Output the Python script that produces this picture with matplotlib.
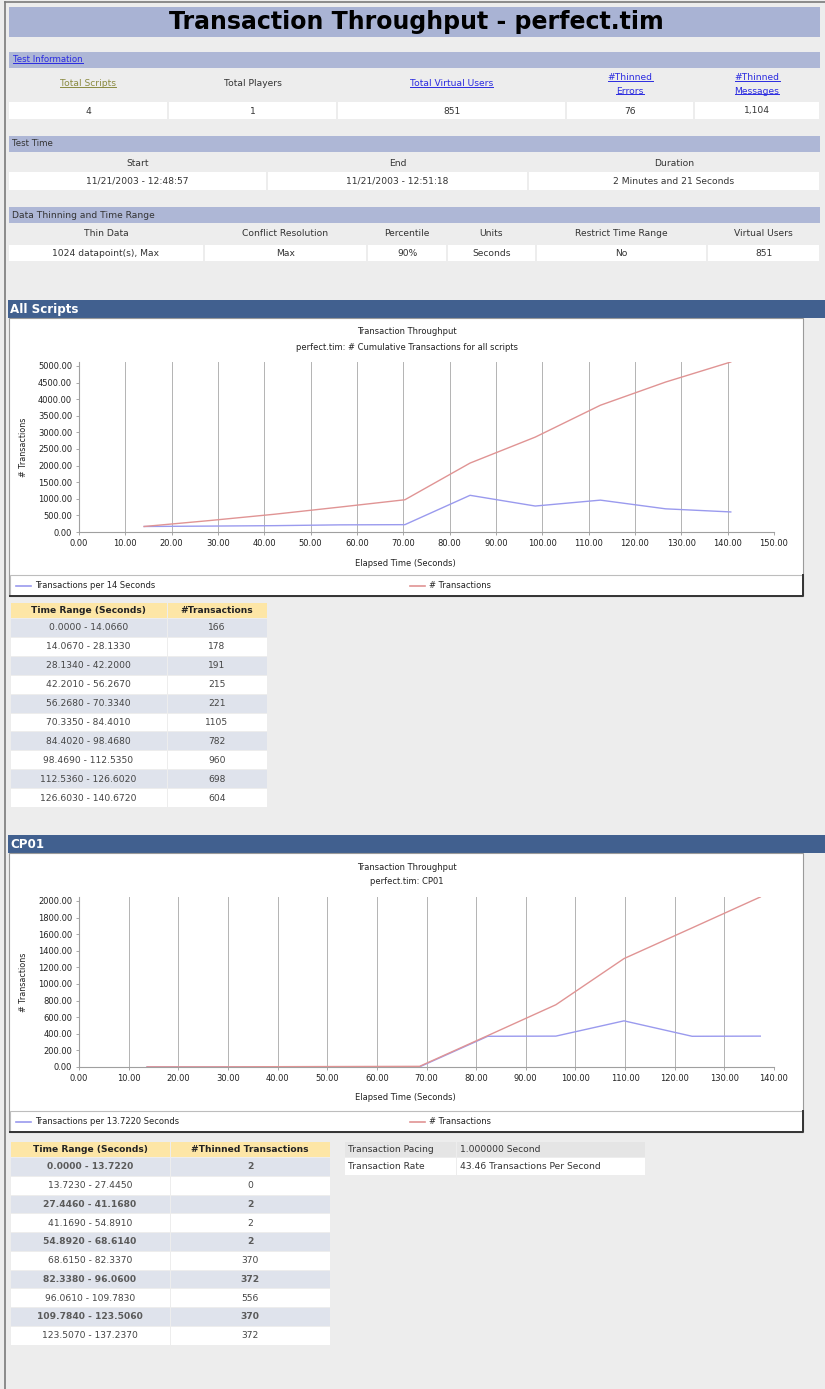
import matplotlib
matplotlib.use("Agg")
import matplotlib.pyplot as plt
from matplotlib.patches import Rectangle

# ---------------- data ----------------
page_title = "Transaction Throughput - perfect.tim"

info_headers = ["Total Scripts", "Total Players", "Total Virtual Users", "#Thinned\nErrors", "#Thinned\nMessages"]
info_values = ["4", "1", "851", "76", "1,104"]

time_headers = ["Start", "End", "Duration"]
time_values = ["11/21/2003 - 12:48:57", "11/21/2003 - 12:51:18", "2 Minutes and 21 Seconds"]

thin_headers = ["Thin Data", "Conflict Resolution", "Percentile", "Units", "Restrict Time Range", "Virtual Users"]
thin_values = ["1024 datapoint(s), Max", "Max", "90%", "Seconds", "No", "851"]

all_ranges = ["0.0000 - 14.0660", "14.0670 - 28.1330", "28.1340 - 42.2000", "42.2010 - 56.2670",
              "56.2680 - 70.3340", "70.3350 - 84.4010", "84.4020 - 98.4680", "98.4690 - 112.5350",
              "112.5360 - 126.6020", "126.6030 - 140.6720"]
all_counts = [166, 178, 191, 215, 221, 1105, 782, 960, 698, 604]
all_times = [14.066, 28.133, 42.200, 56.267, 70.334, 84.401, 98.468, 112.535, 126.602, 140.672]
all_cumulative = [166, 344, 535, 750, 971, 2076, 2858, 3818, 4516, 5120]

cp_ranges = ["0.0000 - 13.7220", "13.7230 - 27.4450", "27.4460 - 41.1680", "41.1690 - 54.8910",
             "54.8920 - 68.6140", "68.6150 - 82.3370", "82.3380 - 96.0600", "96.0610 - 109.7830",
             "109.7840 - 123.5060", "123.5070 - 137.2370"]
cp_counts = [2, 0, 2, 2, 2, 370, 372, 556, 370, 372]
cp_times = [13.722, 27.445, 41.168, 54.891, 68.614, 82.337, 96.060, 109.783, 123.506, 137.237]
cp_cumulative = [2, 2, 4, 6, 8, 378, 750, 1306, 1676, 2048]

pacing_labels = ["Transaction Pacing", "Transaction Rate"]
pacing_values = ["1.000000 Second", "43.46 Transactions Per Second"]

# ---------------- styling ----------------
W, H = 825, 1389
PAGE_BG = "#ededed"
BAR_LIGHT = "#aeb7d6"
BAR_DARK = "#41608f"
CELL_ALT = "#dfe3ec"
YELLOW = "#fde6a6"
TXT = "#333333"
LINK = "#2a2ae0"
OLIVE = "#8a8a40"
BLUE_LINE = "#9a9aee"
RED_LINE = "#e09494"
FONT = "DejaVu Sans"

fig = plt.figure(figsize=(W / 100, H / 100), dpi=100)
fig.patch.set_facecolor(PAGE_BG)
bg = fig.add_axes([0, 0, 1, 1])
bg.set_xlim(0, W)
bg.set_ylim(H, 0)
bg.axis("off")

links = []


def rect(x0, y0, x1, y1, fc, ec="none", lw=0.0, z=1):
    bg.add_patch(Rectangle((x0, y0), x1 - x0, y1 - y0, facecolor=fc, edgecolor=ec, linewidth=lw, zorder=z))


def txt(x, y, s, ha="center", size=6.6, color=TXT, weight="normal", link=False, **kw):
    t = bg.text(x, y, s, ha=ha, va="center", fontsize=size, color=color, fontweight=weight,
                family=FONT, zorder=5, **kw)
    if link:
        links.append((t, color))
    return t


# page border
bg.plot([5, 5], [2, H], color="#7a7a7a", lw=1.2, zorder=3)
bg.plot([5, W], [2, 2], color="#7a7a7a", lw=1.2, zorder=3)

# title bar
rect(9, 7, 820, 37, "#a9b3d4")
txt(416, 22, page_title, size=17, color="#000000", weight="bold")

# ---- Test Information ----
rect(9, 52, 820, 68, BAR_LIGHT)
txt(13, 60, "Test Information", ha="left", size=6.2, color=LINK, link=True)
info_edges = [8, 168, 337, 566, 694, 820]
info_colors = [OLIVE, TXT, LINK, LINK, LINK]
for i, (h, v) in enumerate(zip(info_headers, info_values)):
    x0, x1 = info_edges[i], info_edges[i + 1]
    cx = (x0 + x1) / 2
    lines = h.split("\n")
    is_link = info_colors[i] != TXT
    if len(lines) == 1:
        txt(cx, 84, lines[0], color=info_colors[i], link=is_link)
    else:
        txt(cx, 78, lines[0], color=info_colors[i], link=is_link)
        txt(cx, 91, lines[1], color=info_colors[i], link=is_link)
    rect(x0 + 1, 102, x1 - 1, 119, "white")
    txt(cx, 111, v)

# ---- Test Time ----
rect(9, 136, 820, 152, BAR_LIGHT)
txt(12, 144, "Test Time", ha="left", size=6.2)
time_edges = [8, 267, 528, 820]
for i, (h, v) in enumerate(zip(time_headers, time_values)):
    x0, x1 = time_edges[i], time_edges[i + 1]
    cx = (x0 + x1) / 2
    txt(cx, 163, h)
    rect(x0 + 1, 172, x1 - 1, 190, "white")
    txt(cx, 181, v)

# ---- Data Thinning ----
rect(9, 207, 820, 223, BAR_LIGHT)
txt(12, 215, "Data Thinning and Time Range", ha="left", size=6.6)
thin_edges = [8, 204, 367, 447, 536, 707, 820]
for i, (h, v) in enumerate(zip(thin_headers, thin_values)):
    x0, x1 = thin_edges[i], thin_edges[i + 1]
    cx = (x0 + x1) / 2
    txt(cx, 234, h)
    rect(x0 + 1, 245, x1 - 1, 261, "white")
    txt(cx, 253, v)


# ---------------- charts ----------------
def section_bar(y0, y1, label):
    rect(8, y0, W, y1, BAR_DARK)
    txt(10, (y0 + y1) / 2 + 0.5, label, ha="left", size=8.6, color="white", weight="bold")


def chart(box_top, box_bottom, ax_top, ax_bottom, xmax, ymax, ystep, times, counts, cumulative,
          subtitle, legend1):
    rect(9, box_top, 803, box_bottom, "white", ec="#9a9a9a", lw=0.8)
    leg_top = box_bottom - 21
    rect(10, leg_top, 803, box_bottom, "white", ec="#bdbdbd", lw=0.8)
    bg.plot([803, 803, 10], [leg_top, box_bottom, box_bottom], color="#333333", lw=1.4, zorder=3)
    txt(407, box_top + 14, "Transaction Throughput", size=6.0, color="#222222")
    txt(407, box_top + 29, subtitle, size=6.0, color="#222222")
    txt(405, ax_bottom + 31, "Elapsed Time (Seconds)", size=6.0, color="#222222")
    txt(23, (ax_top + ax_bottom) / 2, "# Transactions", size=5.8, color="#222222", rotation=90)
    ly = (leg_top + box_bottom) / 2
    bg.plot([16, 31], [ly, ly], color=BLUE_LINE, lw=1.2, zorder=4)
    txt(35, ly, legend1, ha="left", size=6.0, color="#222222")
    bg.plot([410, 425], [ly, ly], color=RED_LINE, lw=1.2, zorder=4)
    txt(429, ly, "# Transactions", ha="left", size=6.0, color="#222222")

    ax = fig.add_axes([79 / W, 1 - ax_bottom / H, 695 / W, (ax_bottom - ax_top) / H])
    ax.set_facecolor("white")
    ax.plot(times, counts, color=BLUE_LINE, lw=1.0, zorder=3)
    ax.plot(times, cumulative, color=RED_LINE, lw=1.0, zorder=4)
    ax.set_xlim(0, xmax)
    ax.set_ylim(0, ymax)
    xt = list(range(0, xmax + 1, 10))
    ax.set_xticks(xt)
    ax.set_xticklabels([f"{v:.2f}" for v in xt])
    yt = list(range(0, int(ymax) + 1, ystep))
    ax.set_yticks(yt)
    ax.set_yticklabels([f"{v:.2f}" for v in yt])
    ax.grid(axis="x", color="#b3b3b3", lw=0.7)
    ax.grid(axis="y", visible=False)
    for s in ["top", "right"]:
        ax.spines[s].set_visible(False)
    for s in ["left", "bottom"]:
        ax.spines[s].set_color("#a0a0a0")
        ax.spines[s].set_linewidth(0.8)
    ax.tick_params(axis="both", length=2.5, width=0.6, color="#999999", labelsize=6.0,
                   labelcolor="#222222", pad=2.5)
    for lab in ax.get_xticklabels() + ax.get_yticklabels():
        lab.set_family(FONT)
    return ax


def data_table(y_head, row_h, x_edges, headers, ranges, counts, bold_alt=False):
    for j, h in enumerate(headers):
        x0, x1 = x_edges[j], x_edges[j + 1]
        rect(x0 + 0.5, y_head, x1 - 0.5, y_head + 15, YELLOW)
        txt((x0 + x1) / 2, y_head + 7.5, h, size=6.6, color="#222222", weight="bold")
    y = y_head + 16
    for i, (r, c) in enumerate(zip(ranges, counts)):
        fc = CELL_ALT if i % 2 == 0 else "white"
        alt = bold_alt and i % 2 == 0
        w = "bold" if alt else "normal"
        col = "#5a5a5a" if alt else "#444444"
        for j, s in enumerate([r, str(c)]):
            x0, x1 = x_edges[j], x_edges[j + 1]
            rect(x0 + 0.5, y + i * row_h, x1 - 0.5, y + (i + 1) * row_h - 1, fc)
            txt((x0 + x1) / 2, y + i * row_h + row_h / 2 - 0.5, s, size=6.6, color=col, weight=w)


# All Scripts section
section_bar(300, 318, "All Scripts")
chart(318, 596, 362, 532, 150, 5120, 500, all_times, all_counts, all_cumulative,
      "perfect.tim: # Cumulative Transactions for all scripts", "Transactions per 14 Seconds")
data_table(603, 18.9, [10, 167, 267], ["Time Range (Seconds)", "#Transactions"], all_ranges, all_counts)

# CP01 section
section_bar(835, 853, "CP01")
chart(853, 1132, 897, 1067, 140, 2048, 200, cp_times, cp_counts, cp_cumulative,
      "perfect.tim: CP01", "Transactions per 13.7220 Seconds")
data_table(1142, 18.75, [10, 170, 330], ["Time Range (Seconds)", "#Thinned Transactions"],
           cp_ranges, cp_counts, bold_alt=True)

# side table
side_edges = [345, 457, 645]
side_rows = [(1142, 1157, "#e5e5e5"), (1158, 1175, "white")]
for (y0, y1, fc), lab, val in zip(side_rows, pacing_labels, pacing_values):
    rect(side_edges[0], y0, side_edges[1] - 1, y1, fc)
    rect(side_edges[1], y0, side_edges[2], y1, fc)
    txt(side_edges[0] + 3, (y0 + y1) / 2, lab, ha="left", size=6.6, color="#333333")
    txt(side_edges[1] + 3, (y0 + y1) / 2, val, ha="left", size=6.6, color="#333333")

# underline links
fig.canvas.draw()
renderer = fig.canvas.get_renderer()
inv = bg.transData.inverted()
for t, c in links:
    bb = t.get_window_extent(renderer)
    (xa, ya), (xb, yb) = inv.transform([[bb.x0, bb.y0], [bb.x1, bb.y1]])
    ybase = max(ya, yb) - 1.5
    bg.plot([xa, xb], [ybase, ybase], color=c, lw=0.7, zorder=5)

fig.savefig("out.png", dpi=100, facecolor=PAGE_BG)
